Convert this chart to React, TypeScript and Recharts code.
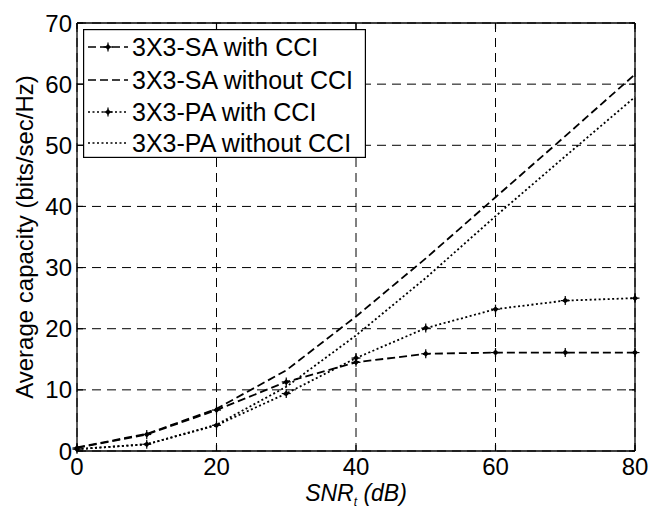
import React from 'react';
import { LineChart, Line, XAxis, YAxis, CartesianGrid, ReferenceLine } from 'recharts';

const snrDb = [0, 10, 20, 30, 40, 50, 60, 70, 80];
const saWithCci = [0.5, 2.7, 6.7, 11.3, 14.5, 15.9, 16.1, 16.1, 16.1];
const saWithoutCci = [0.6, 2.8, 6.9, 13.2, 22.0, 31.5, 41.5, 51.5, 61.6];
const paWithCci = [0.3, 1.1, 4.2, 9.4, 15.2, 20.1, 23.2, 24.6, 25.0];
const paWithoutCci = [0.3, 1.1, 4.3, 10.5, 18.9, 28.3, 38.4, 48.2, 57.9];

const xTicks = [0, 20, 40, 60, 80];
const yTicks = [0, 10, 20, 30, 40, 50, 60, 70];
const seriesNames = ['3X3-SA with CCI', '3X3-SA without CCI', '3X3-PA with CCI', '3X3-PA without CCI'];
const yTitle = 'Average capacity (bits/sec/Hz)';

const data = snrDb.map((s, i) => ({
  snr: s,
  saWith: saWithCci[i],
  saWithout: saWithoutCci[i],
  paWith: paWithCci[i],
  paWithout: paWithoutCci[i],
}));

const W = 650;
const H = 511;
const PL = 77;
const PR = 635;
const PT = 23;
const PB = 451;
const TICK = 6;
const FONT = '"Liberation Sans", Arial, Helvetica, sans-serif';
const FS = 24;

const DASH = '8 4';
const DOT = '2 2.5';

const styles = [
  { key: 'saWith', dash: DASH, marker: true },
  { key: 'saWithout', dash: DASH, marker: false },
  { key: 'paWith', dash: DOT, marker: true },
  { key: 'paWithout', dash: DOT, marker: false },
];

const markerShape = (cx: number, cy: number, k: string | number) => (
  <g key={k}>
    <path d={`M${cx - 3},${cy} L${cx},${cy - 3} L${cx + 3},${cy} L${cx},${cy + 3} Z`} fill="#000" />
    <line x1={cx - 4.5} y1={cy} x2={cx + 4.5} y2={cy} stroke="#000" strokeWidth={1.2} />
    <line x1={cx} y1={cy - 4.5} x2={cx} y2={cy + 4.5} stroke="#000" strokeWidth={1.2} />
  </g>
);

const Marker = (props: any) => {
  const { cx, cy, index } = props;
  if (cx == null || cy == null) return <g key={index} />;
  return markerShape(cx, cy, index);
};

const XTick = (props: any) => {
  const { x, payload } = props;
  return (
    <g>
      <line x1={x} y1={PB} x2={x} y2={PB - TICK} stroke="#000" strokeWidth={1.2} />
      <line x1={x} y1={PT} x2={x} y2={PT + TICK} stroke="#000" strokeWidth={1.2} />
      <text x={x} y={PB + 24} textAnchor="middle" fontSize={FS} fontFamily={FONT} fill="#000">
        {payload.value}
      </text>
    </g>
  );
};

const YTick = (props: any) => {
  const { y, payload } = props;
  return (
    <g>
      <line x1={PL} y1={y} x2={PL + TICK} y2={y} stroke="#000" strokeWidth={1.2} />
      <line x1={PR} y1={y} x2={PR - TICK} y2={y} stroke="#000" strokeWidth={1.2} />
      <text x={PL - 5} y={y + 8.5} textAnchor="end" fontSize={FS} fontFamily={FONT} fill="#000">
        {payload.value}
      </text>
    </g>
  );
};

const Legendbox = () => {
  const rowY = [18, 51, 83, 114];
  return (
    <svg
      width={283}
      height={129}
      style={{ position: 'absolute', left: 83, top: 29 }}
    >
      <rect x={0.6} y={0.6} width={281.8} height={127.8} fill="#fff" stroke="#000" strokeWidth={1.2} />
      {styles.map((s, i) => (
        <g key={s.key}>
          <line x1={5} y1={rowY[i]} x2={45} y2={rowY[i]} stroke="#000" strokeWidth={1.6} strokeDasharray={s.dash} />
          {s.marker ? markerShape(25, rowY[i], 'm' + i) : null}
          <text x={49} y={rowY[i] + 8.5} fontSize={25} fontFamily={FONT} fill="#000">
            {seriesNames[i]}
          </text>
        </g>
      ))}
    </svg>
  );
};

export default function App() {
  return (
    <div style={{ position: 'absolute', left: 0, top: 0, width: W, height: H, background: '#fff' }}>
      <LineChart
        width={W}
        height={H}
        data={data}
        margin={{ top: PT, right: W - PR, left: 0, bottom: 0 }}
      >
        <CartesianGrid
          stroke="#000"
          strokeWidth={1}
          strokeDasharray="9 6"
          horizontalValues={yTicks}
          verticalValues={xTicks}
        />
        <XAxis
          dataKey="snr"
          type="number"
          domain={[0, 80]}
          ticks={xTicks}
          height={H - PB}
          tickSize={0}
          tickLine={false}
          axisLine={{ stroke: '#000', strokeWidth: 1.3 }}
          tick={<XTick />}
          interval={0}
          label={() => (
            <text x={356} y={501} textAnchor="middle" fontSize={23} fontStyle="italic" fontFamily={FONT} fill="#000">
              SNR
              <tspan fontSize={12} dy={5}>t</tspan>
              <tspan dy={-5}> (dB)</tspan>
            </text>
          )}
        />
        <YAxis
          type="number"
          domain={[0, 70]}
          ticks={yTicks}
          width={PL}
          tickSize={0}
          tickLine={false}
          axisLine={{ stroke: '#000', strokeWidth: 1.3 }}
          tick={<YTick />}
          interval={0}
          label={() => (
            <text
              x={33}
              y={237}
              textAnchor="middle"
              fontSize={24}
              fontFamily={FONT}
              fill="#000"
              transform="rotate(-90, 33, 237)"
            >
              {yTitle}
            </text>
          )}
        />
        <ReferenceLine y={70} stroke="#000" strokeWidth={1.3} />
        <ReferenceLine x={80} stroke="#000" strokeWidth={1.3} />
        {styles.map((s, i) => (
          <Line
            key={s.key}
            dataKey={s.key}
            name={seriesNames[i]}
            stroke="#000"
            strokeWidth={1.8}
            strokeDasharray={s.dash}
            dot={s.marker ? <Marker /> : false}
            activeDot={false}
            isAnimationActive={false}
            type="linear"
          />
        ))}
      </LineChart>
      <Legendbox />
    </div>
  );
}
